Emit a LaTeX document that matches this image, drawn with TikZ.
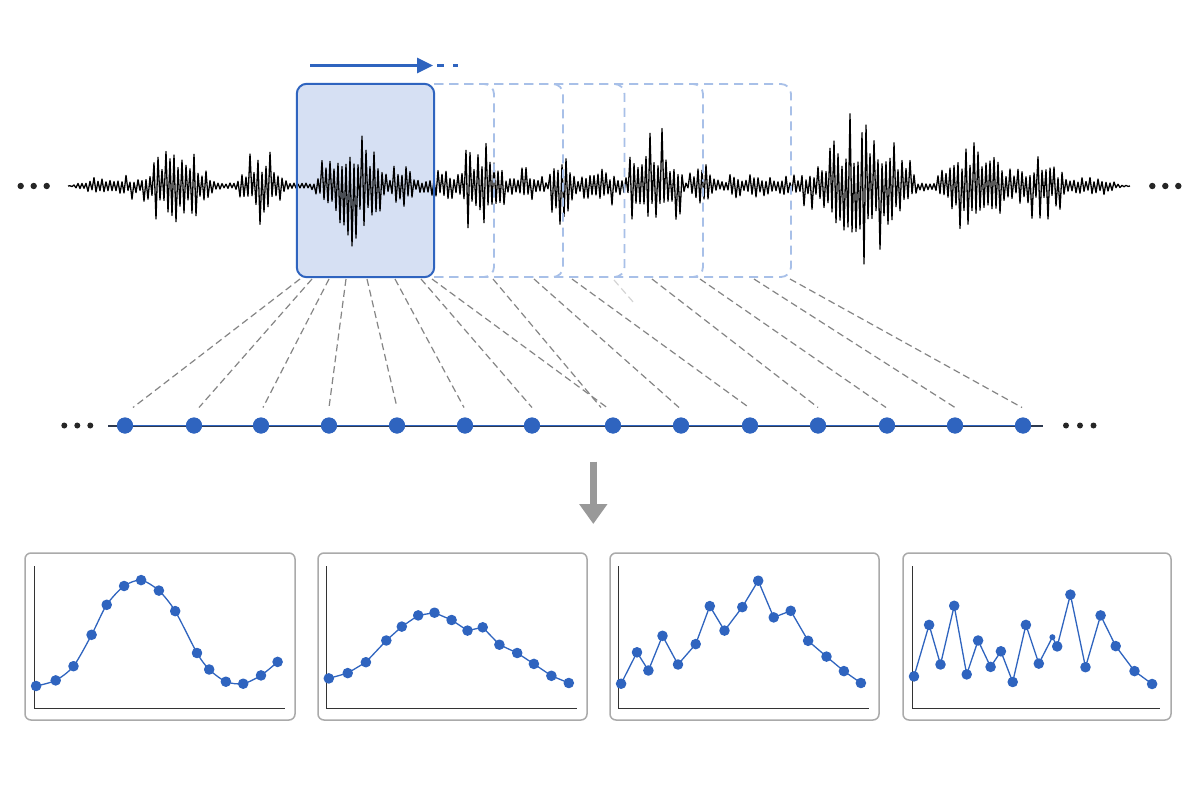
\documentclass[tikz,border=0pt]{standalone}
\usetikzlibrary{calc,arrows.meta}
\definecolor{mainblue}{HTML}{2F64BF}
\definecolor{winfill}{HTML}{D6E0F3}
\definecolor{ghostblue}{HTML}{A8C0E8}
\definecolor{guidegray}{HTML}{858585}
\definecolor{framegray}{HTML}{AAAAAA}
\definecolor{arrowgray}{HTML}{999999}
\definecolor{axisgray}{HTML}{333333}
\definecolor{trackgray}{HTML}{2E3A50}
\tikzset{
  wave/.style={black, line width=1.3pt, line join=round},
  winbox/.style={rectangle, rounded corners=10pt, minimum width=137pt, minimum height=193pt, inner sep=0pt},
  ghost/.style={ghostblue, line width=1.8pt, dash pattern=on 9pt off 6pt, rounded corners=10pt},
  guide/.style={guidegray, line width=1.2pt, dash pattern=on 7pt off 4pt},
  sample/.style={circle, fill=mainblue, inner sep=0pt, minimum size=16pt},
  ell/.style={fill=black!85},
  plotframe/.style={rectangle, draw=framegray, line width=1.5pt, rounded corners=6pt, fill=white, minimum width=269pt, minimum height=167pt, inner sep=0pt},
  axes/.style={axisgray, line width=1.4pt},
  series/.style={mainblue, line width=1.3pt, line join=round, mark=*, mark size=4.6pt, mark options={fill=mainblue, draw=none}},
}
\begin{document}
\begin{tikzpicture}[x=1pt,y=-1pt,
  declare function={
    bmp(\u,\c,\w)=max(0,1-((\u-\c)/\w)*((\u-\c)/\w));
    tap(\u)=min(1,(\u-68)/25)*min(1,(1130-\u)/25);
    wenv(\u)=tap(\u)*(6 + 8*bmp(\u,110,45) + 42*bmp(\u,178,38) + 30*bmp(\u,262,28)
      + 60*bmp(\u,352,38) + 28*bmp(\u,402,15) + 15*bmp(\u,445,25) + 52*bmp(\u,482,25)
      + 14*bmp(\u,525,25) + 48*bmp(\u,562,14) + 16*bmp(\u,600,28) + 52*bmp(\u,655,32)
      + 36*bmp(\u,702,14) + 8*bmp(\u,760,45) + 15*bmp(\u,815,25) + 68*bmp(\u,868,50)
      + 56*bmp(\u,975,40) + 28*bmp(\u,1040,35) + 8*bmp(\u,1095,28));
    sgn(\t)=1-2*mod(round(\t),2);
  }]
\useasboundingbox (0,0) rectangle (1200,800);
\fill[white] (0,0) rectangle (1200,800);

% active window (fill)
\node[winbox, fill=winfill] (win) at (365.5,180.5) {};

% waveform
\pgfmathsetseed{11}
\draw[wave] plot[variable=\t, samples=532, domain=0:531]
  ({68+\t*2}, {186 + wenv(68+\t*2)*sgn(\t)*(0.3+0.85*rnd*rnd)});

% ghost windows
\foreach \r in {494,563,624.5,703,791}{
  \draw[ghost] (434,84) -| (\r,181);
  \draw[ghost] (434,277) -| (\r,180);
}
\draw[mainblue, line width=2pt, rounded corners=10pt] (win.south west) rectangle (win.north east);

% sliding arrow
\coordinate (arrS) at (310,65.5);
\coordinate (arrE) at (433,65.5);
\coordinate (dashS) at (437,65.5);
\coordinate (dashE) at (458,65.5);
\draw[mainblue, line width=3.3pt, -{Triangle[length=16pt,width=15pt]}] (arrS) -- (arrE);
\draw[mainblue, line width=3.3pt, dash pattern=on 7pt off 9pt] (dashS) -- (dashE);

% ellipses
\foreach \x in {20.7,33.7,46.7} \fill[ell] (\x,186) circle (3.2);
\foreach \x in {1152.3,1165.3,1178.3} \fill[ell] (\x,186) circle (3.2);
\foreach \x in {64.3,77.3,90.3} \fill[ell] (\x,425.5) circle (3);
\foreach \x in {1066,1080,1093.5} \fill[ell] (\x,425.5) circle (3);

% sample track
\coordinate (trackL) at (108,425.5);
\coordinate (trackR) at (1043,425.5);
\draw[trackgray, line width=2pt] (trackL) -- (trackR);
\foreach \i/\x in {1/125,2/194,3/261,4/329,5/397,6/465,7/532,8/613,9/681,10/750,11/818,12/887,13/955,14/1023}
  \node[sample] (p\i) at (\x,425.5) {};
\draw[mainblue, line width=1.2pt] (p1) -- (p14);
\foreach \i/\x in {1/125,2/194,3/261,4/329,5/397,6/465,7/532,8/613,9/681,10/750,11/818,12/887,13/955,14/1023}
  \node[sample] at (\x,425.5) {};

% guide lines
\foreach \k/\tx/\p/\dx in {1/300/1/8, 2/312/2/5, 3/329/3/2, 4/346/4/0, 5/367/5/0, 6/395/6/-1, 7/421/7/0, 8/432/8/-6, 9/493/8/-12, 10/534/9/-2, 11/572/10/-1, 12/652/11/0, 13/700/12/-1, 14/754/13/0, 15/790/14/-1}{
  \coordinate (g\k) at (\tx,279);
  \draw[guide] (g\k) -- ($(p\p)+(\dx,-18)$);
}
\coordinate (f1) at (614,280);
\coordinate (f2) at (634,303);
\draw[guide, opacity=0.35] (f1) -- (f2);

% down arrow
\coordinate (downS) at (593.3,461.5);
\coordinate (downE) at (593.3,524);
\draw[arrowgray, line width=6.5pt, -{Triangle[length=20pt,width=27pt]}] (downS) -- (downE);

% plot frames
\node[plotframe, minimum width=270pt] (pl1) at (160,636.5) {};
\node[plotframe] (pl2) at (452.5,636.5) {};
\node[plotframe] (pl3) at (744.5,636.5) {};
\node[plotframe, minimum width=268pt] (pl4) at (1037,636.5) {};

\draw[axes] (34.2,566) -- (34.2,708.5) -- (285,708.5);
\draw[axes] (326.5,566) -- (326.5,708.5) -- (577,708.5);
\draw[axes] (618.5,566) -- (618.5,708.5) -- (868.5,708.5);
\draw[axes] (912.2,566) -- (912.2,708.5) -- (1160,708.5);

\draw[series, smooth, tension=0.45] plot coordinates {(36.1,686.0) (55.7,680.4) (73.5,666.2) (91.6,634.8) (106.7,604.8) (124.1,586.0) (141.1,580.1) (158.9,590.6) (175.2,611.1) (197.0,653.0) (209.2,669.5) (225.9,681.7) (243.2,683.7) (261.0,675.4) (277.6,661.9)};
\draw[series] plot coordinates {(328.8,678.4) (347.7,673.1) (365.9,662.2) (386.3,640.5) (401.8,626.6) (418.2,615.4) (434.5,612.7) (451.6,620.0) (467.5,630.6) (482.7,627.3) (499.4,644.7) (517.2,653.0) (533.9,663.9) (551.4,675.8) (568.8,683.0)};
\draw[series] plot coordinates {(621.1,683.7) (637.0,652.3) (648.4,670.5) (662.5,635.8) (678.0,664.5) (695.7,644.1) (709.8,606.1) (724.5,630.6) (742.3,607.1) (758.2,580.7) (773.7,617.4) (790.7,610.8) (808.1,640.8) (826.5,656.6) (843.9,671.1) (860.9,683.0)};
\draw[series, mark=none] plot coordinates {(914.0,676.4) (929.1,624.9) (940.5,664.5) (954.2,605.8) (966.7,674.4) (978.1,640.5) (990.6,666.9) (1000.9,651.3) (1012.7,682.0) (1025.9,624.9) (1038.8,663.6) (1052.4,637.2) (1057.2,646.4) (1070.4,594.6) (1085.5,667.2) (1100.6,615.4) (1115.7,646.1) (1134.5,671.1) (1152.1,684.0)};
\draw[series, draw=none] plot coordinates {(914.0,676.4) (929.1,624.9) (940.5,664.5) (954.2,605.8) (966.7,674.4) (978.1,640.5) (990.6,666.9) (1000.9,651.3) (1012.7,682.0) (1025.9,624.9) (1038.8,663.6) (1057.2,646.4) (1070.4,594.6) (1085.5,667.2) (1100.6,615.4) (1115.7,646.1) (1134.5,671.1) (1152.1,684.0)};
\fill[mainblue] (1052.4,637.2) circle (3);
\end{tikzpicture}
\end{document}
